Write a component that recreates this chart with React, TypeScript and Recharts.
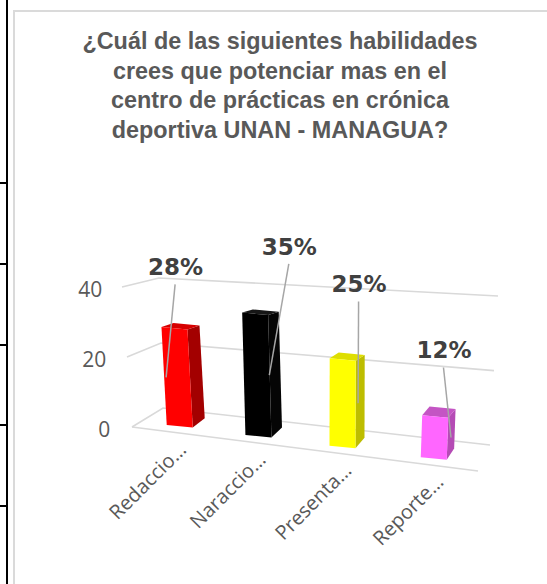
import React from 'react'
import { BarChart, Bar, XAxis, YAxis, CartesianGrid } from 'recharts'

// values
const categories = ['Redaccio…', 'Naraccio…', 'Presenta…', 'Reporte…']
const values = [28, 35, 25, 12]
const yTicks = [0, 20, 40]

const titleLines = [
  '¿Cuál de las siguientes habilidades',
  'crees que potenciar mas en el',
  'centro de prácticas en crónica',
  'deportiva UNAN - MANAGUA?',
]

const frontColors = ['#FF0000', '#000000', '#FFFF00', '#FF66FF']
const sideColors = ['#A30000', '#050505', '#BDBD00', '#B54BB5']
const topColors = ['#D60000', '#161616', '#DEDE00', '#C455C4']

// manual label placement (Excel labels were dragged), relative to bar top
const labelShift = [
  [-1.5, 5],
  [32.5, -1],
  [16.5, -9],
  [9.5, 0],
]
const leaderEnd = [-11, 12.5, 15.5, 16.5]

const data = categories.map((name, i) => ({ name, value: values[i] }))

const W = 547
const H = 584
const PLOT_LEFT = 131.3
const PLOT_TOP = 287
const PLOT_BOTTOM = 427
const PLOT_RIGHT = 473.7
const Y_MAX = 40
const GRID = '#D9D9D9'

// fake 3D: perspective applied on top of the flat recharts layout
const perspX = (x: number) => x + 0.000416 * (x - 300) ** 2 - 3.77
const shearY = (x: number) => 0.125 * (x - 193)
const depthDy = (y: number) => -4 - 0.055 * (y - 329)

const pts = (p: number[][]) => p.map((q) => q.join(',')).join(' ')

const wallLine = (props: any) => {
  const y = props.y1
  const t = (PLOT_BOTTOM - y) / (PLOT_BOTTOM - PLOT_TOP)
  const lx = PLOT_LEFT + 0.7 - 10 * t
  const cx = 163 - 4 * t
  const cy = y - 19 + 10 * t
  const rx = 490 + 8 * t
  const ry = cy + (0.113 - 0.06 * t) * (rx - cx)
  return (
    <g key={`wall-${props.index}-${y}`}>
      <polyline
        points={pts([[lx, y], [cx, cy], [rx, ry]])}
        fill="none"
        stroke={GRID}
        strokeWidth={1.6}
      />
      {t < 0.01 && (
        <line
          x1={lx}
          y1={y}
          x2={478}
          y2={y + 0.127 * (478 - lx)}
          stroke={GRID}
          strokeWidth={1.6}
        />
      )}
    </g>
  )
}

const YTick = (props: any) => {
  const { y, payload } = props
  const t = payload.value / Y_MAX
  return (
    <text
      x={PLOT_LEFT - 29 + 8 * (1 - t)}
      y={y + 10}
      textAnchor="end"
      fill="#595959"
      fontSize={21}
      fontFamily="'Open Sans', sans-serif"
    >
      {payload.value}
    </text>
  )
}

const XTick = (props: any) => {
  const { x, payload } = props
  const px = perspX(x)
  const ex = px + 10.5
  const ey = PLOT_BOTTOM + 26 + shearY(px)
  return (
    <text
      x={ex}
      y={ey}
      textAnchor="end"
      transform={`rotate(-45 ${ex} ${ey})`}
      fill="#595959"
      fontSize={20}
      fontFamily="'Open Sans', sans-serif"
    >
      {payload.value}
    </text>
  )
}

const Bar3D = (props: any) => {
  const { x, y, width: w, height: h, index, value } = props
  const c = perspX(x + w / 2)
  const left = c - w / 2
  const s = shearY(c)
  const e = 0.1
  const lean = (335 - c) * 0.00034 * (h / 2)
  const yt = y + s
  const yb = y + h + s

  const FTL = [left - lean, yt]
  const FTR = [left + w - lean, yt + e * w]
  const FBR = [left + w + lean, yb + e * w]
  const FBL = [left + lean, yb]
  const dx = 12 - 0.018 * (c - 177)
  const BTL = [FTL[0] + dx, FTL[1] + depthDy(FTL[1])]
  const BTR = [FTR[0] + dx, FTR[1] + depthDy(FTR[1])]
  const BBR = [FBR[0] + dx, FBR[1] + depthDy(FBR[1])]

  const topMid = yt + (e * w) / 2
  const [sx, sy] = labelShift[index]
  const lx = c + sx
  const ly = topMid - 58 + sy
  const midY = (topMid + yb + (e * w) / 2) / 2

  return (
    <g>
      <polygon points={pts([FTR, BTR, BBR, FBR])} fill={sideColors[index]} />
      <polygon points={pts([FTL, BTL, BTR, FTR])} fill={topColors[index]} />
      <polygon points={pts([FTL, FTR, FBR, FBL])} fill={frontColors[index]} />
      <line
        x1={lx - 0.5}
        y1={ly + 9}
        x2={c + leaderEnd[index]}
        y2={midY}
        stroke="#A6A6A6"
        strokeWidth={1.5}
      />
      <text
        x={lx}
        y={ly}
        textAnchor="middle"
        fill="#404040"
        fontSize={23}
        fontWeight="bold"
        fontFamily="'DejaVu Sans', sans-serif"
      >
        {`${value}%`}
      </text>
    </g>
  )
}

export default function App() {
  return (
    <div
      style={{
        position: 'absolute',
        left: 0,
        top: 0,
        width: W,
        height: H,
        overflow: 'hidden',
        background: '#fff',
      }}
    >
      {/* table borders from the source document */}
      <div style={{ position: 'absolute', left: 6, top: 0, width: 2, height: H, background: '#000' }} />
      {[183, 264, 345, 425, 506].map((t) => (
        <div
          key={t}
          style={{ position: 'absolute', left: 0, top: t - 1, width: 8, height: 2, background: '#000' }}
        />
      ))}
      <div
        style={{
          position: 'absolute',
          left: 13,
          top: 10,
          width: 700,
          height: 800,
          border: '2px solid #DADADA',
        }}
      />
      <div
        style={{
          position: 'absolute',
          left: 30,
          top: 27,
          width: 500,
          textAlign: 'center',
          fontFamily: "'Liberation Sans', Arial, sans-serif",
          fontWeight: 'bold',
          fontSize: 23.4,
          lineHeight: '29.5px',
          color: '#595959',
        }}
      >
        {titleLines.map((l) => (
          <div key={l}>{l}</div>
        ))}
      </div>
      <div style={{ position: 'absolute', left: 0, top: 0 }}>
        <BarChart
          width={W}
          height={H}
          data={data}
          margin={{
            top: PLOT_TOP,
            bottom: H - PLOT_BOTTOM - 100,
            left: PLOT_LEFT - 60,
            right: W - PLOT_RIGHT,
          }}
        >
          <CartesianGrid vertical={false} horizontal={wallLine} />
          <XAxis
            dataKey="name"
            interval={0}
            height={100}
            axisLine={false}
            tickLine={false}
            tick={<XTick />}
          />
          <YAxis
            width={60}
            domain={[0, Y_MAX]}
            ticks={yTicks}
            axisLine={false}
            tickLine={false}
            tick={<YTick />}
          />
          <Bar dataKey="value" barSize={26} isAnimationActive={false} shape={Bar3D} />
        </BarChart>
      </div>
    </div>
  )
}
